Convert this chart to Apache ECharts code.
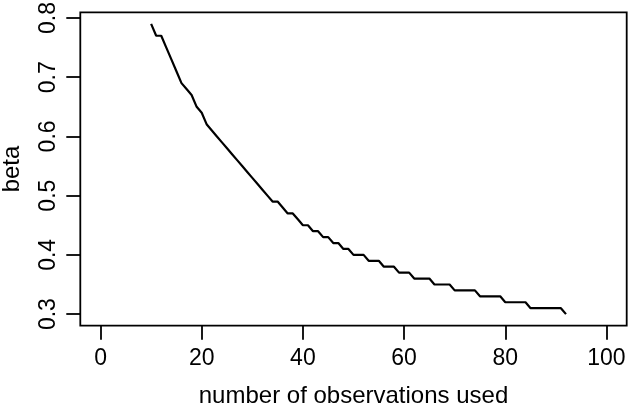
<!DOCTYPE html>
<html lang="en">
<head>
<meta charset="UTF-8">
<title>beta vs observations</title>
<style>
  html, body { margin: 0; padding: 0; background: #fff; }
  #chart { width: 630px; height: 407px; }
</style>
</head>
<body>
<div id="chart"></div>
<script src="https://cdn.jsdelivr.net/npm/echarts@6/dist/echarts.min.js"></script>
<script>
// number of observations used
var obsUsed = [10, 11, 12, 13, 14, 15, 16, 17, 18, 19, 20, 21, 22, 23, 24, 25, 26, 27, 28, 29,
  30, 31, 32, 33, 34, 35, 36, 37, 38, 39, 40, 41, 42, 43, 44, 45, 46, 47, 48, 49,
  50, 51, 52, 53, 54, 55, 56, 57, 58, 59, 60, 61, 62, 63, 64, 65, 66, 67, 68, 69,
  70, 71, 72, 73, 74, 75, 76, 77, 78, 79, 80, 81, 82, 83, 84, 85, 86, 87, 88, 89,
  90, 91, 92];
// estimated beta
var beta = [0.79, 0.77, 0.77, 0.75, 0.73, 0.71, 0.69, 0.68, 0.67, 0.65, 0.64, 0.62, 0.61, 0.60, 0.59, 0.58, 0.57, 0.56, 0.55, 0.54,
  0.53, 0.52, 0.51, 0.50, 0.49, 0.49, 0.48, 0.47, 0.47, 0.46, 0.45, 0.45, 0.44, 0.44, 0.43, 0.43, 0.42, 0.42, 0.41, 0.41,
  0.40, 0.40, 0.40, 0.39, 0.39, 0.39, 0.38, 0.38, 0.38, 0.37, 0.37, 0.37, 0.36, 0.36, 0.36, 0.36, 0.35, 0.35, 0.35, 0.35,
  0.34, 0.34, 0.34, 0.34, 0.34, 0.33, 0.33, 0.33, 0.33, 0.33, 0.32, 0.32, 0.32, 0.32, 0.32, 0.31, 0.31, 0.31, 0.31, 0.31,
  0.31, 0.31, 0.30];

// tick ranges (R style: axis spans first..last tick, box extends 4% past the data)
var xTickRange = [0, 100], xStep = 20;
var yTickRange = [0.3, 0.8], yStep = 0.1;
var xLim = [-4, 104];
var yLim = [0.2804, 0.8096];

var pts = [];
for (var i = 0; i < obsUsed.length; i++) {
  pts.push([obsUsed[i], beta[i]]);
}

var font = '"Liberation Sans", Arial, sans-serif';
var chart = echarts.init(document.getElementById('chart'), null, { renderer: 'canvas' });

// plot box in pixels
var box = { left: 80.3, right: 626.7, top: 12.3, bottom: 325.7 };
var pxX = (box.right - box.left) / (xLim[1] - xLim[0]);
var pxY = (box.bottom - box.top) / (yLim[1] - yLim[0]);
// sub-grid that spans exactly the tick range, so the ticks come from the axis itself
var tg = {
  left: box.left + (xTickRange[0] - xLim[0]) * pxX,
  right: box.right - (xLim[1] - xTickRange[1]) * pxX,
  top: box.top + (yLim[1] - yTickRange[1]) * pxY,
  bottom: box.bottom - (yTickRange[0] - yLim[0]) * pxY
};

var tickStyle = { show: true, length: 14, lineStyle: { color: '#000', width: 1.8 } };

var option = {
  animation: false,
  backgroundColor: '#fff',
  grid: [{
    left: box.left, right: 630 - box.right, top: box.top, bottom: 407 - box.bottom,
    containLabel: false, outerBoundsMode: 'none',
    show: true, borderColor: '#000', borderWidth: 1.8
  }, {
    left: tg.left, right: 630 - tg.right, top: tg.top, bottom: 407 - tg.bottom,
    containLabel: false, outerBoundsMode: 'none',
    show: false
  }],
  xAxis: [{
    gridIndex: 0,
    type: 'value',
    min: xLim[0], max: xLim[1],
    name: 'number of observations used',
    nameLocation: 'middle',
    nameGap: 59,
    nameTextStyle: { fontFamily: font, fontSize: 24, color: '#000' },
    axisLine: { show: false, onZero: false },
    axisTick: { show: false },
    axisLabel: { show: false },
    splitLine: { show: false }
  }, {
    gridIndex: 1,
    type: 'value',
    min: xTickRange[0], max: xTickRange[1], interval: xStep,
    offset: box.bottom - tg.bottom,
    axisLine: { show: false, onZero: false },
    axisTick: tickStyle,
    axisLabel: { margin: 21, fontFamily: font, fontSize: 23, color: '#000' },
    splitLine: { show: false }
  }],
  yAxis: [{
    gridIndex: 0,
    type: 'value',
    min: yLim[0], max: yLim[1],
    name: 'beta',
    nameLocation: 'middle',
    nameGap: 56,
    nameTextStyle: { fontFamily: font, fontSize: 24, color: '#000' },
    axisLine: { show: false, onZero: false },
    axisTick: { show: false },
    axisLabel: { show: false },
    splitLine: { show: false }
  }, {
    gridIndex: 1,
    type: 'value',
    min: yTickRange[0], max: yTickRange[1], interval: yStep,
    offset: tg.left - box.left,
    axisLine: { show: false, onZero: false },
    axisTick: tickStyle,
    axisLabel: {
      margin: 20, rotate: 90, fontFamily: font, fontSize: 23, color: '#000',
      formatter: function (v) { return v.toFixed(1); }
    },
    splitLine: { show: false }
  }],
  series: [{
    type: 'line',
    xAxisIndex: 0,
    yAxisIndex: 0,
    data: pts,
    showSymbol: false,
    lineStyle: { color: '#000', width: 2.2 }
  }]
};

chart.setOption(option);
</script>
</body>
</html>
